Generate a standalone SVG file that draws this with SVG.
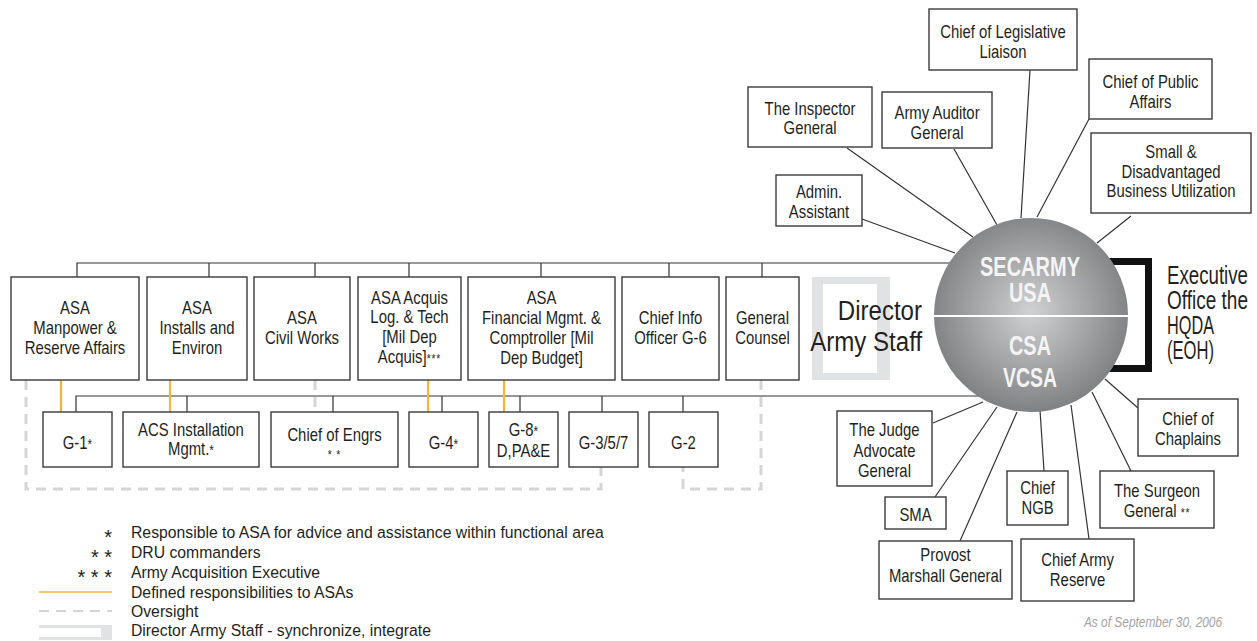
<svg xmlns="http://www.w3.org/2000/svg" width="1257" height="641" viewBox="0 0 1257 641">
<style>
.box{fill:#fff;stroke:#3a3a3a;stroke-width:1.4}
.ln{stroke:#333;stroke-width:1.2;fill:none}
.or{stroke:#F6B53D;stroke-width:2.2;fill:none}
.ds{stroke:#D4D5D7;stroke-width:3;fill:none;stroke-dasharray:10 7}
text{font-family:"Liberation Sans",Arial,sans-serif;fill:#231F20}
.t{font-size:17.5px;text-anchor:middle;transform-box:fill-box;transform-origin:center;transform:scaleX(0.85)}
.big{font-size:28px;transform-box:fill-box;transform:scaleX(0.86)}
.eoh{font-size:25px}
.ce{font-weight:bold;fill:#F4F4F4;text-anchor:middle;font-size:27px}
.lg{font-size:16.5px;transform-box:fill-box;transform-origin:left center;transform:scaleX(0.955)}
.st{font-size:20px;text-anchor:end}
.sm{font-size:14px}
.xs{font-size:12px;letter-spacing:1px}
</style>
<defs>
<radialGradient id="gr" cx="0.5" cy="0.48" r="0.55">
<stop offset="0" stop-color="#D0D1D3"/>
<stop offset="0.55" stop-color="#A2A3A5"/>
<stop offset="1" stop-color="#7B7C7E"/>
</radialGradient>
</defs>

<!-- Director Army Staff bracket -->
<g id="das-bracket">
<path d="M812,277 H890 V380 H812 Z M823,284 V373 H877 V284 Z" fill="#E1E2E4" fill-rule="evenodd"/>
<text class="big" x="922" y="320" text-anchor="end" style="transform-origin:right center">Director</text>
<text class="big" x="922" y="351" text-anchor="end" style="transform-origin:right center">Army Staff</text>
</g>

<g id="connectors">
<!-- top bus -->
<path class="ln" d="M77,277 V263 H1000"/>
<path class="ln" d="M209,263 V277 M315,263 V277 M409,263 V277 M541,263 V277 M669,263 V277 M762,263 V277"/>
<!-- lower bus -->
<path class="ln" d="M76,412 V396 H1000"/>
<path class="ln" d="M187,396 V412 M333,396 V412 M442,396 V412 M520,396 V412 M602,396 V412 M683,396 V412"/>
<!-- spokes top -->
<path class="ln" d="M862,219 L955,253 M847,148 L973,237 M954,149 L997,225 M1030,70 L1021,218 M1089,119 L1037,217 M1131,216 L1097,243"/>
<!-- spokes bottom -->
<path class="ln" d="M933,423 L983,402 M935,497 L997,407 M960,541 L1017,412 M1044,471 L1040,410 M1089,539 L1071,405 M1131,471 L1092,392 M1138,408 L1105,379"/>
<!-- defined responsibilities -->
<path class="or" d="M61,380 V412 M170,380 V412 M428,380 V412 M504,380 V412"/>
<!-- oversight -->
<path class="ds" d="M26,380 V489 H601 V467"/>
<path class="ds" d="M315,380 V412"/>
<path class="ds" d="M761,380 V489 H683 V467"/>
<!-- EOH bracket -->
<path d="M1100,261.5 H1148.5 V368.5 H1100" fill="none" stroke="#111" stroke-width="7"/>
</g>

<g id="secarmy">
<circle cx="1031" cy="315" r="97" fill="url(#gr)"/>
<line x1="934" y1="316" x2="1128" y2="316" stroke="#fff" stroke-width="2"/>
<text class="ce" x="1030" y="276" textLength="100" lengthAdjust="spacingAndGlyphs">SECARMY</text>
<text class="ce" x="1030" y="302" textLength="42" lengthAdjust="spacingAndGlyphs">USA</text>
<text class="ce" x="1030" y="355" textLength="42" lengthAdjust="spacingAndGlyphs">CSA</text>
<text class="ce" x="1030" y="387" textLength="54" lengthAdjust="spacingAndGlyphs">VCSA</text>
</g>

<g id="eoh">
<text class="eoh" x="1167" y="284" textLength="81" lengthAdjust="spacingAndGlyphs">Executive</text>
<text class="eoh" x="1167" y="309" textLength="81" lengthAdjust="spacingAndGlyphs">Office the</text>
<text class="eoh" x="1167" y="334" textLength="47" lengthAdjust="spacingAndGlyphs">HQDA</text>
<text class="eoh" x="1167" y="359" textLength="47" lengthAdjust="spacingAndGlyphs">(EOH)</text>
</g>

<!-- top boxes -->
<g id="legislative"><rect class="box" x="929" y="9" width="148" height="61"/><text class="t" x="1003"><tspan x="1003" y="38">Chief of Legislative</tspan><tspan x="1003" y="58">Liaison</tspan></text></g>
<g id="public-affairs"><rect class="box" x="1089" y="59" width="123" height="60"/><text class="t" x="1150.5"><tspan x="1150.5" y="88">Chief of Public</tspan><tspan x="1150.5" y="108">Affairs</tspan></text></g>
<g id="sdbu"><rect class="box" x="1091" y="133" width="160" height="80"/><text class="t" x="1171"><tspan x="1171" y="158">Small &amp;</tspan><tspan x="1171" y="178">Disadvantaged</tspan><tspan x="1171" y="197">Business Utilization</tspan></text></g>
<g id="inspector"><rect class="box" x="748" y="87" width="124" height="60"/><text class="t" x="810"><tspan x="810" y="115">The Inspector</tspan><tspan x="810" y="134">General</tspan></text></g>
<g id="auditor"><rect class="box" x="882" y="92" width="110" height="56"/><text class="t" x="937"><tspan x="937" y="119">Army Auditor</tspan><tspan x="937" y="139">General</tspan></text></g>
<g id="admin"><rect class="box" x="776" y="175" width="86" height="51"/><text class="t" x="819"><tspan x="819" y="198">Admin.</tspan><tspan x="819" y="218">Assistant</tspan></text></g>

<!-- ASA row -->
<g id="asa-mra"><rect class="box" x="11" y="277" width="128" height="103"/><text class="t" x="75"><tspan x="75" y="314">ASA</tspan><tspan x="75" y="334">Manpower &amp;</tspan><tspan x="75" y="354">Reserve Affairs</tspan></text></g>
<g id="asa-ie"><rect class="box" x="147" y="277" width="100" height="103"/><text class="t" x="197"><tspan x="197" y="314">ASA</tspan><tspan x="197" y="334">Installs and</tspan><tspan x="197" y="354">Environ</tspan></text></g>
<g id="asa-cw"><rect class="box" x="254" y="277" width="96" height="103"/><text class="t" x="302"><tspan x="302" y="324">ASA</tspan><tspan x="302" y="344">Civil Works</tspan></text></g>
<g id="asa-alt"><rect class="box" x="358" y="277" width="103" height="103"/><text class="t" x="409.5"><tspan x="409.5" y="304">ASA Acquis</tspan><tspan x="409.5" y="323">Log. &amp; Tech</tspan><tspan x="409.5" y="343">[Mil Dep</tspan><tspan x="409.5" y="363">Acquis]<tspan class="xs">***</tspan></tspan></text></g>
<g id="asa-fm"><rect class="box" x="468" y="277" width="147" height="103"/><text class="t" x="541.5"><tspan x="541.5" y="304">ASA</tspan><tspan x="541.5" y="324">Financial Mgmt. &amp;</tspan><tspan x="541.5" y="344">Comptroller [Mil</tspan><tspan x="541.5" y="364">Dep Budget]</tspan></text></g>
<g id="cio"><rect class="box" x="622" y="277" width="97" height="103"/><text class="t" x="670.5"><tspan x="670.5" y="324">Chief Info</tspan><tspan x="670.5" y="344">Officer G-6</tspan></text></g>
<g id="gc"><rect class="box" x="726" y="277" width="73" height="103"/><text class="t" x="762.5"><tspan x="762.5" y="324">General</tspan><tspan x="762.5" y="344">Counsel</tspan></text></g>

<!-- staff row -->
<g id="g1"><rect class="box" x="43" y="412" width="69" height="55"/><text class="t" x="77.5" y="449">G-1<tspan class="sm">*</tspan></text></g>
<g id="acsim"><rect class="box" x="123" y="412" width="136" height="55"/><text class="t" x="191"><tspan x="191" y="436">ACS Installation</tspan><tspan x="191" y="455">Mgmt.<tspan class="sm">*</tspan></tspan></text></g>
<g id="coe"><rect class="box" x="271" y="412" width="127" height="55"/><text class="t" x="334.5"><tspan x="334.5" y="441">Chief of Engrs</tspan><tspan x="334.5" y="459" class="xs">* *</tspan></text></g>
<g id="g4"><rect class="box" x="409" y="412" width="69" height="55"/><text class="t" x="443.5" y="449">G-4<tspan class="sm">*</tspan></text></g>
<g id="g8"><rect class="box" x="489" y="412" width="69" height="55"/><text class="t" x="523.5"><tspan x="523.5" y="436">G-8<tspan class="sm">*</tspan></tspan><tspan x="523.5" y="457">D,PA&amp;E</tspan></text></g>
<g id="g357"><rect class="box" x="569" y="412" width="69" height="55"/><text class="t" x="603.5" y="449">G-3/5/7</text></g>
<g id="g2"><rect class="box" x="649" y="412" width="69" height="55"/><text class="t" x="683.5" y="449">G-2</text></g>

<!-- bottom right boxes -->
<g id="tjag"><rect class="box" x="837" y="411" width="95" height="75"/><text class="t" x="884.5"><tspan x="884.5" y="436">The Judge</tspan><tspan x="884.5" y="457">Advocate</tspan><tspan x="884.5" y="477">General</tspan></text></g>
<g id="sma"><rect class="box" x="885" y="497" width="61" height="32"/><text class="t" x="915.5" y="521">SMA</text></g>
<g id="pmg"><rect class="box" x="879" y="541" width="133" height="58"/><text class="t" x="945.5"><tspan x="945.5" y="561">Provost</tspan><tspan x="945.5" y="582">Marshall General</tspan></text></g>
<g id="ngb"><rect class="box" x="1007" y="471" width="61" height="54"/><text class="t" x="1037.5"><tspan x="1037.5" y="494">Chief</tspan><tspan x="1037.5" y="514">NGB</tspan></text></g>
<g id="car"><rect class="box" x="1021" y="539" width="113" height="62"/><text class="t" x="1077.5"><tspan x="1077.5" y="566">Chief Army</tspan><tspan x="1077.5" y="586">Reserve</tspan></text></g>
<g id="tsg"><rect class="box" x="1100" y="471" width="114" height="57"/><text class="t" x="1157"><tspan x="1157" y="497">The Surgeon</tspan><tspan x="1157" y="517">General <tspan class="xs">**</tspan></tspan></text></g>
<g id="chaplains"><rect class="box" x="1138" y="399" width="100" height="57"/><text class="t" x="1188"><tspan x="1188" y="425">Chief of</tspan><tspan x="1188" y="445">Chaplains</tspan></text></g>

<!-- legend -->
<g id="legend">
<text class="st" x="112" y="544">*</text>
<text class="st" x="112" y="564">* *</text>
<text class="st" x="112" y="584">* * *</text>
<line x1="39" y1="592" x2="112" y2="592" stroke="#F6B53D" stroke-width="1.5"/>
<line x1="39" y1="611" x2="112" y2="611" stroke="#D4D5D7" stroke-width="2" stroke-dasharray="10 7"/>
<path d="M39,625 H112 V640 H39 Z M39,628 V637 H101 V628 Z" fill="#E1E2E4" fill-rule="evenodd"/>
<text class="lg" x="131" y="538">Responsible to ASA for advice and assistance within functional area</text>
<text class="lg" x="131" y="558">DRU commanders</text>
<text class="lg" x="131" y="578">Army Acquisition Executive</text>
<text class="lg" x="131" y="598">Defined responsibilities to ASAs</text>
<text class="lg" x="131" y="617">Oversight</text>
<text class="lg" x="131" y="636">Director Army Staff - synchronize, integrate</text>
</g>
<text x="1222" y="627" font-size="14" font-style="italic" text-anchor="end" style="fill:#A3A3A3;transform-box:fill-box;transform-origin:right center;transform:scaleX(0.85)">As of September 30, 2006</text>
</svg>
